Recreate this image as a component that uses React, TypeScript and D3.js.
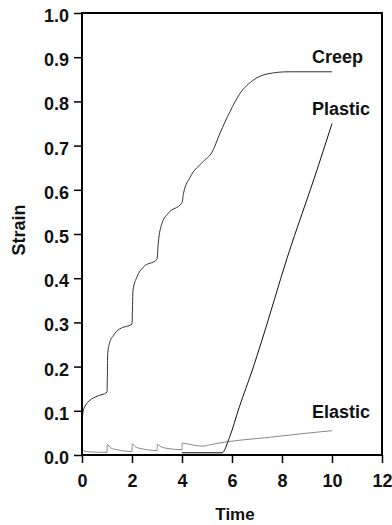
import React, { useEffect, useRef } from 'react';
import * as d3 from 'd3';

// [time, strain]
const creep: [number, number][] = [
  [0, 0.08], [0.05, 0.1], [0.15, 0.113], [0.32, 0.124], [0.6, 0.133], [1.0, 0.142],
  [1.03, 0.23], [1.1, 0.253], [1.25, 0.27], [1.5, 0.285], [2.0, 0.296],
  [2.04, 0.373], [2.2, 0.403], [2.45, 0.425], [3.0, 0.443],
  [3.05, 0.479], [3.2, 0.524], [3.45, 0.547], [4.0, 0.571],
  [4.06, 0.592], [4.32, 0.628], [4.85, 0.664], [5.2, 0.685], [5.52, 0.728],
  [5.92, 0.777], [6.32, 0.818], [6.85, 0.848], [7.4, 0.862], [8.25, 0.867], [10, 0.867],
];

const plastic: [number, number][] = [
  [4, 0.005], [5.6, 0.005], [5.9, 0.04], [6.3, 0.11], [6.8, 0.19],
  [7.2, 0.26], [8.2, 0.445], [9.4, 0.645], [10, 0.75],
];

const elastic: [number, number][] = [
  [0, 0.015], [0.1, 0.009], [0.3, 0.007], [1, 0.006],
  [1.01, 0.024], [1.15, 0.016], [1.4, 0.012], [2, 0.008],
  [2.01, 0.025], [2.15, 0.018], [2.4, 0.014], [3, 0.01],
  [3.01, 0.024], [3.15, 0.019], [3.4, 0.015], [4, 0.012],
  [4.01, 0.027], [4.3, 0.024], [4.85, 0.02], [5.1, 0.023],
  [5.7, 0.029], [7.5, 0.04], [9.1, 0.05], [10, 0.055],
];

const xTicks = [0, 2, 4, 6, 8, 10, 12];
const yTicks = [0, 0.1, 0.2, 0.3, 0.4, 0.5, 0.6, 0.7, 0.8, 0.9, 1.0];

const seriesLabels = [
  { name: 'Creep', at: [10, 0.867] as [number, number], dy: -9 },
  { name: 'Plastic', at: [10, 0.75] as [number, number], dy: -9 },
  { name: 'Elastic', at: [10, 0.055] as [number, number], dy: -13 },
];

const FONT = '"Liberation Sans", Arial, sans-serif';

export default function App() {
  const svgRef = useRef<SVGSVGElement>(null);

  useEffect(() => {
    if (!svgRef.current) return;
    const width = 392;
    const height = 525;
    const margin = { top: 13, right: 10, bottom: 70, left: 82 };
    const w = 300;
    const h = 442;

    d3.select(svgRef.current).selectAll('*').remove();
    const svg = d3
      .select(svgRef.current)
      .attr('width', width)
      .attr('height', height);

    const g = svg.append('g').attr('transform', `translate(${margin.left},${margin.top})`);

    const x = d3.scaleLinear().domain([0, 12]).range([0, w]);
    const y = d3.scaleLinear().domain([0, 1]).range([h, 0]);

    // lines
    const line = d3
      .line<[number, number]>()
      .x(d => x(d[0]))
      .y(d => y(d[1]))
      .curve(d3.curveMonotoneX);

    g.append('path').datum(elastic).attr('d', line).attr('fill', 'none')
      .attr('stroke', '#888').attr('stroke-width', 1);
    g.append('path').datum(plastic).attr('d', line).attr('fill', 'none')
      .attr('stroke', '#111').attr('stroke-width', 1);
    g.append('path').datum(creep).attr('d', line).attr('fill', 'none')
      .attr('stroke', '#333').attr('stroke-width', 1);

    // frame
    g.append('rect')
      .attr('x', 0).attr('y', 0).attr('width', w).attr('height', h)
      .attr('fill', 'none').attr('stroke', '#000').attr('stroke-width', 2);

    // y axis
    const yAxis = g.append('g').call(
      d3.axisLeft(y).tickValues(yTicks).tickSize(8).tickFormat(d3.format('.1f'))
    );
    yAxis.select('.domain').remove();
    yAxis.selectAll('.tick line').attr('stroke', '#000').attr('stroke-width', 1.5);
    yAxis.selectAll('.tick text')
      .attr('x', -13)
      .attr('dy', '0.47em')
      .attr('fill', '#111')
      .attr('font-size', '18px')
      .attr('font-weight', 'bold')
      .attr('font-family', FONT);

    // x axis
    const xAxis = g.append('g').attr('transform', `translate(0,${h})`).call(
      d3.axisBottom(x).tickValues(xTicks).tickSize(8).tickFormat(d3.format('d'))
    );
    xAxis.select('.domain').remove();
    xAxis.selectAll('.tick line').attr('stroke', '#000').attr('stroke-width', 1.5);
    xAxis.selectAll('.tick text')
      .attr('y', 32)
      .attr('dy', 0)
      .attr('fill', '#111')
      .attr('font-size', '18px')
      .attr('font-weight', 'bold')
      .attr('font-family', FONT);

    // axis titles
    g.append('text')
      .attr('x', w / 2 + 3)
      .attr('y', h + 65)
      .attr('text-anchor', 'middle')
      .attr('fill', '#111')
      .attr('font-size', '17px')
      .attr('font-weight', 'bold')
      .attr('font-family', FONT)
      .text('Time');

    g.append('text')
      .attr('transform', `translate(${25 - margin.left},${230 - margin.top}) rotate(-90)`)
      .attr('text-anchor', 'middle')
      .attr('fill', '#111')
      .attr('font-size', '18px')
      .attr('font-weight', 'bold')
      .attr('font-family', FONT)
      .text('Strain');

    // series labels
    seriesLabels.forEach(s => {
      g.append('text')
        .attr('x', x(s.at[0]) - 20)
        .attr('y', y(s.at[1]) + s.dy)
        .attr('fill', '#111')
        .attr('font-size', '18px')
        .attr('font-weight', 'bold')
        .attr('font-family', FONT)
        .text(s.name);
    });
  }, []);

  return (
    <svg
      ref={svgRef}
      style={{ position: 'absolute', left: 0, top: 0, background: '#fff' }}
    ></svg>
  );
}
